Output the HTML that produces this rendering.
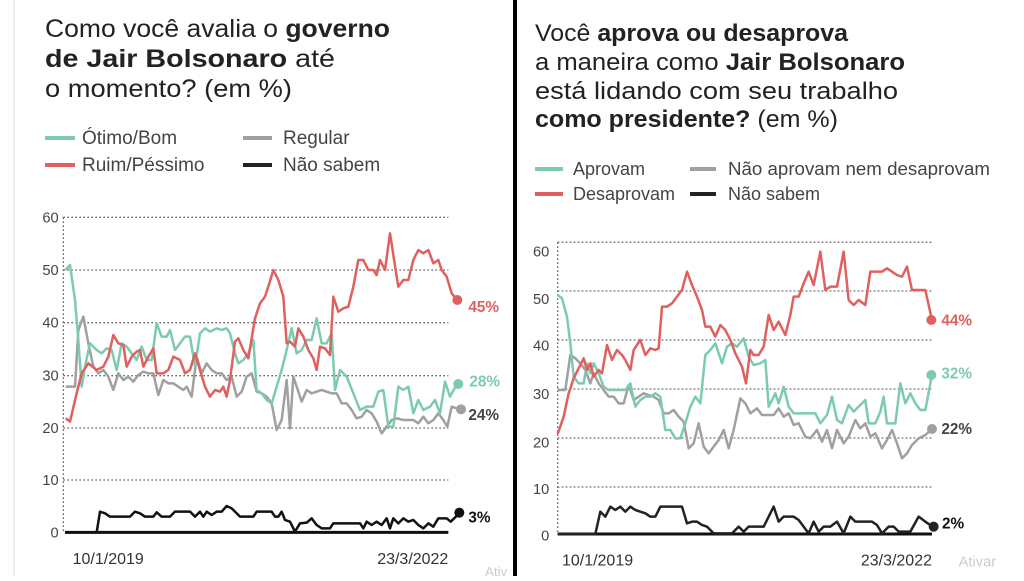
<!DOCTYPE html>
<html><head><meta charset="utf-8"><style>
html,body{margin:0;padding:0;background:#fff;}
body{width:1024px;height:576px;overflow:hidden;font-family:"Liberation Sans",sans-serif;}
svg text{font-family:"Liberation Sans",sans-serif;}
</style></head><body>
<svg width="1024" height="576" viewBox="0 0 1024 576" xmlns="http://www.w3.org/2000/svg">
<rect width="1024" height="576" fill="#fff"/>
<line x1="14" y1="0" x2="14" y2="576" stroke="#eee" stroke-width="2"/>
<rect x="513" y="0" width="4" height="576" fill="#000"/>

<!-- Left title -->
<g font-size="25" fill="#222">
<text x="45" y="37" textLength="345" lengthAdjust="spacingAndGlyphs">Como você avalia o <tspan font-weight="bold">governo</tspan></text>
<text x="45" y="67" textLength="290" lengthAdjust="spacingAndGlyphs"><tspan font-weight="bold">de Jair Bolsonaro</tspan> até</text>
<text x="45" y="97" textLength="247" lengthAdjust="spacingAndGlyphs">o momento? (em %)</text>
</g>
<g font-size="19" fill="#444">
<line x1="45" y1="138" x2="75" y2="138" stroke="#7ccbb0" stroke-width="4"/>
<text x="82" y="144">Ótimo/Bom</text>
<line x1="243" y1="138" x2="272" y2="138" stroke="#a0a0a0" stroke-width="4"/>
<text x="283" y="144">Regular</text>
<line x1="45" y1="165" x2="75" y2="165" stroke="#e06060" stroke-width="4"/>
<text x="82" y="171">Ruim/Péssimo</text>
<line x1="243" y1="165" x2="272" y2="165" stroke="#222" stroke-width="4"/>
<text x="283" y="171">Não sabem</text>
</g>

<!-- Right title -->
<g font-size="24" fill="#222">
<text x="535" y="41" textLength="313" lengthAdjust="spacingAndGlyphs">Você <tspan font-weight="bold">aprova ou desaprova</tspan></text>
<text x="535" y="70" textLength="370" lengthAdjust="spacingAndGlyphs">a maneira como <tspan font-weight="bold">Jair Bolsonaro</tspan></text>
<text x="535" y="99" textLength="363" lengthAdjust="spacingAndGlyphs">está lidando com seu trabalho</text>
<text x="535" y="127" textLength="303" lengthAdjust="spacingAndGlyphs"><tspan font-weight="bold">como presidente?</tspan> (em %)</text>
</g>
<g font-size="18" fill="#444">
<line x1="535" y1="169" x2="563" y2="169" stroke="#7ccbb0" stroke-width="4"/>
<text x="573" y="175">Aprovam</text>
<line x1="690" y1="169" x2="716" y2="169" stroke="#a0a0a0" stroke-width="4"/>
<text x="728" y="175" textLength="262" lengthAdjust="spacingAndGlyphs">Não aprovam nem desaprovam</text>
<line x1="535" y1="194" x2="563" y2="194" stroke="#e06060" stroke-width="4"/>
<text x="573" y="200">Desaprovam</text>
<line x1="690" y1="194" x2="716" y2="194" stroke="#222" stroke-width="4"/>
<text x="728" y="200">Não sabem</text>
</g>

<!-- Left chart (zoom coords) -->
<g transform="translate(0,200) scale(0.33333)">
<g stroke="#666" stroke-width="4" stroke-dasharray="5,7" fill="none">
<line x1="190" y1="52" x2="1345" y2="52"/>
<line x1="190" y1="210" x2="1345" y2="210"/>
<line x1="190" y1="368" x2="1345" y2="368"/>
<line x1="190" y1="527" x2="1345" y2="527"/>
<line x1="190" y1="684" x2="1345" y2="684"/>
<line x1="190" y1="840" x2="1345" y2="840"/>
<line x1="190" y1="52" x2="190" y2="997"/>
</g>
<g font-size="44" fill="#444" text-anchor="end">
<text x="176" y="67">60</text><text x="176" y="225">50</text><text x="176" y="383">40</text>
<text x="176" y="542">30</text><text x="176" y="699">20</text><text x="176" y="855">10</text><text x="176" y="1012">0</text>
</g>
<line x1="195" y1="997" x2="1345" y2="997" stroke="#111" stroke-width="9"/>
<g fill="none" stroke-width="7.5" stroke-linejoin="round">
<polyline stroke="#a0a0a0" points="197,560 210,560 225,560 235,390 250,350 265,430 280,500 295,520 310,510 325,530 340,570 355,520 370,540 385,530 400,545 415,525 430,515 445,520 460,520 475,585 490,540 505,550 520,550 535,560 550,570 560,560 575,590 590,470 605,520 620,490 635,510 650,520 665,520 680,540 695,530 710,590 725,575 740,530 755,520 770,575 785,580 800,590 815,610 830,690 845,660 860,540 870,685 880,530 890,560 905,605 920,570 935,580 950,575 965,570 980,575 995,580 1010,580 1025,610 1040,610 1055,630 1070,655 1085,650 1100,630 1115,640 1130,665 1145,700 1160,680 1175,660 1190,655 1210,660 1225,660 1240,660 1255,670 1270,650 1285,670 1300,660 1315,640 1330,660 1342,680 1355,620 1380,628"/>
<polyline stroke="#7ccbb0" points="197,210 210,195 225,300 235,420 245,560 255,500 270,430 290,450 305,460 320,445 335,450 350,510 365,430 380,440 395,460 410,480 425,440 440,480 455,480 470,370 485,410 500,410 510,390 525,450 540,430 555,410 570,410 585,500 600,400 615,385 630,395 650,385 665,390 680,385 690,400 705,460 715,490 730,480 745,460 760,420 770,570 785,580 800,600 815,610 830,560 845,510 860,450 875,385 890,460 905,450 920,420 935,420 950,355 965,430 980,430 995,400 1005,570 1020,510 1040,530 1060,580 1080,630 1100,620 1120,620 1135,575 1150,570 1165,680 1180,680 1195,560 1210,570 1225,560 1240,640 1255,600 1270,630 1290,620 1305,600 1320,640 1335,545 1350,590 1372,550"/>
<polyline stroke="#e06060" points="197,655 210,665 230,580 245,520 265,490 290,510 310,500 325,470 340,405 355,430 370,435 380,500 395,470 410,455 420,450 430,500 445,470 460,445 470,520 490,520 505,510 520,470 540,480 555,520 570,510 585,460 600,510 615,560 630,590 645,570 660,575 670,560 680,590 690,540 705,425 715,415 730,450 745,475 765,355 780,310 795,290 808,250 820,210 835,240 850,290 860,430 870,425 885,440 895,385 910,410 925,450 940,475 950,510 960,440 975,445 990,465 1000,290 1015,335 1030,325 1045,320 1060,260 1075,180 1090,180 1105,210 1120,210 1130,225 1140,180 1155,210 1170,100 1180,165 1195,260 1210,240 1225,240 1240,180 1255,150 1270,160 1285,150 1300,190 1315,180 1325,210 1340,230 1355,280 1372,300"/>
<polyline stroke="#111" points="197,997 290,997 300,935 315,940 330,950 390,950 405,935 420,940 435,950 460,950 470,937 485,950 510,950 525,935 570,935 585,950 600,935 610,950 620,935 635,945 650,935 665,935 680,918 695,925 720,950 760,950 770,935 815,935 825,950 835,950 845,935 855,960 870,965 885,995 900,970 920,968 935,955 950,975 965,985 990,985 1000,970 1080,970 1090,985 1100,965 1115,975 1130,965 1145,975 1160,955 1170,985 1180,955 1195,970 1210,955 1225,965 1240,960 1255,975 1270,985 1285,970 1300,980 1315,955 1340,955 1352,965 1378,940"/>
</g>
<circle cx="1372" cy="300" r="15" fill="#e06060"/>
<circle cx="1375" cy="552" r="15" fill="#7ccbb0"/>
<circle cx="1383" cy="628" r="15" fill="#a0a0a0"/>
<circle cx="1378" cy="938" r="15" fill="#111"/>
<g font-size="46" font-weight="bold">
<text x="1405" y="336" fill="#e06060">45%</text>
<text x="1408" y="560" fill="#7ccbb0">28%</text>
<text x="1405" y="660" fill="#444">24%</text>
<text x="1405" y="968" fill="#111">3%</text>
</g>
<g font-size="48" fill="#333">
<text x="218" y="1092">10/1/2019</text>
<text x="1345" y="1092" text-anchor="end">23/3/2022</text>
</g>
<text x="1455" y="1128" font-size="40" fill="#ccc">Ativ</text>
</g>

<!-- Right chart -->
<g transform="translate(512,230) scale(0.33333)">
<g stroke="#666" stroke-width="4" stroke-dasharray="5,7" fill="none">
<line x1="137" y1="37" x2="1260" y2="37"/>
<line x1="137" y1="183" x2="1260" y2="183"/>
<line x1="137" y1="330" x2="1260" y2="330"/>
<line x1="137" y1="477" x2="1260" y2="477"/>
<line x1="137" y1="624" x2="1260" y2="624"/>
<line x1="137" y1="771" x2="1260" y2="771"/>
<line x1="137" y1="37" x2="137" y2="912"/>
</g>
<g font-size="44" fill="#444" text-anchor="end">
<text x="112" y="80">60</text><text x="112" y="222">50</text><text x="112" y="362">40</text>
<text x="112" y="507">30</text><text x="112" y="652">20</text><text x="112" y="792">10</text><text x="112" y="932">0</text>
</g>
<line x1="137" y1="912" x2="1260" y2="912" stroke="#111" stroke-width="9"/>
<g fill="none" stroke-width="7.5" stroke-linejoin="round">
<polyline stroke="#a0a0a0" points="137,480 160,480 175,375 190,385 205,400 220,420 235,460 245,430 260,460 275,480 290,500 305,500 320,520 335,520 350,465 365,510 380,500 395,490 410,495 425,500 440,510 455,550 470,550 485,540 500,560 515,575 530,655 545,640 560,580 575,650 590,670 605,650 620,630 635,600 650,655 665,600 685,505 700,520 715,550 735,535 750,555 765,555 785,555 800,535 815,560 830,550 845,585 860,580 880,620 895,625 915,600 930,635 945,600 960,655 975,600 995,640 1010,620 1030,570 1045,595 1060,580 1075,620 1090,610 1110,655 1125,630 1140,600 1155,640 1170,685 1185,670 1200,645 1220,625 1240,615 1260,597"/>
<polyline stroke="#7ccbb0" points="137,195 150,205 165,260 175,340 185,440 200,460 215,460 225,400 235,430 245,400 260,430 275,470 290,480 305,480 320,480 340,480 355,460 370,530 385,510 400,500 415,500 430,490 445,500 460,600 475,600 490,625 505,625 520,580 535,530 550,500 565,520 580,375 595,360 610,340 630,400 645,350 660,340 675,350 695,325 710,380 725,405 745,400 760,390 770,530 790,490 800,520 815,470 830,530 845,550 870,550 895,550 910,550 925,580 945,555 960,500 975,570 990,580 1010,525 1025,545 1040,530 1060,510 1070,580 1090,580 1105,545 1115,500 1125,580 1150,580 1165,460 1180,520 1195,490 1210,520 1225,540 1240,540 1260,435"/>
<polyline stroke="#e06060" points="137,612 155,560 170,490 185,445 200,415 215,385 225,420 235,400 245,440 260,420 270,430 285,345 300,390 315,360 330,375 340,390 355,420 365,360 375,345 385,330 400,375 415,355 430,360 440,355 450,230 465,230 480,220 495,200 510,180 525,125 540,165 555,200 570,240 580,290 595,290 610,320 625,285 640,300 655,330 670,370 690,410 702,460 715,360 725,375 740,375 755,350 770,255 785,300 800,275 820,315 835,255 845,200 860,200 875,160 890,125 905,165 925,65 940,180 955,170 975,170 995,65 1010,210 1025,225 1040,210 1060,225 1075,125 1090,125 1110,125 1125,115 1140,125 1155,135 1170,140 1185,110 1200,180 1215,180 1240,180 1260,270"/>
<polyline stroke="#222" points="137,912 250,912 265,845 280,860 295,830 310,840 325,830 340,845 355,830 370,840 385,845 400,850 415,860 430,860 445,830 510,830 525,880 540,875 555,875 570,885 585,890 605,910 660,910 680,890 695,905 710,890 755,890 770,860 785,830 800,875 815,860 845,860 860,870 890,910 905,875 920,905 935,890 955,890 975,875 995,910 1015,860 1030,875 1080,875 1095,885 1110,910 1130,890 1145,890 1160,905 1175,905 1195,905 1220,860 1240,875 1262,890"/>
</g>
<circle cx="1258" cy="270" r="15" fill="#e06060"/>
<circle cx="1258" cy="435" r="15" fill="#7ccbb0"/>
<circle cx="1260" cy="597" r="15" fill="#a0a0a0"/>
<circle cx="1265" cy="890" r="15" fill="#222"/>
<g font-size="46" font-weight="bold">
<text x="1288" y="286" fill="#e06060">44%</text>
<text x="1288" y="446" fill="#7ccbb0">32%</text>
<text x="1288" y="612" fill="#444">22%</text>
<text x="1290" y="895" fill="#111">2%</text>
</g>
<g font-size="48" fill="#333">
<text x="150" y="1007">10/1/2019</text>
<text x="1260" y="1007" text-anchor="end">23/3/2022</text>
</g>
<text x="1340" y="1010" font-size="44" fill="#ccc">Ativar</text>
</g>
</svg>
</body></html>
